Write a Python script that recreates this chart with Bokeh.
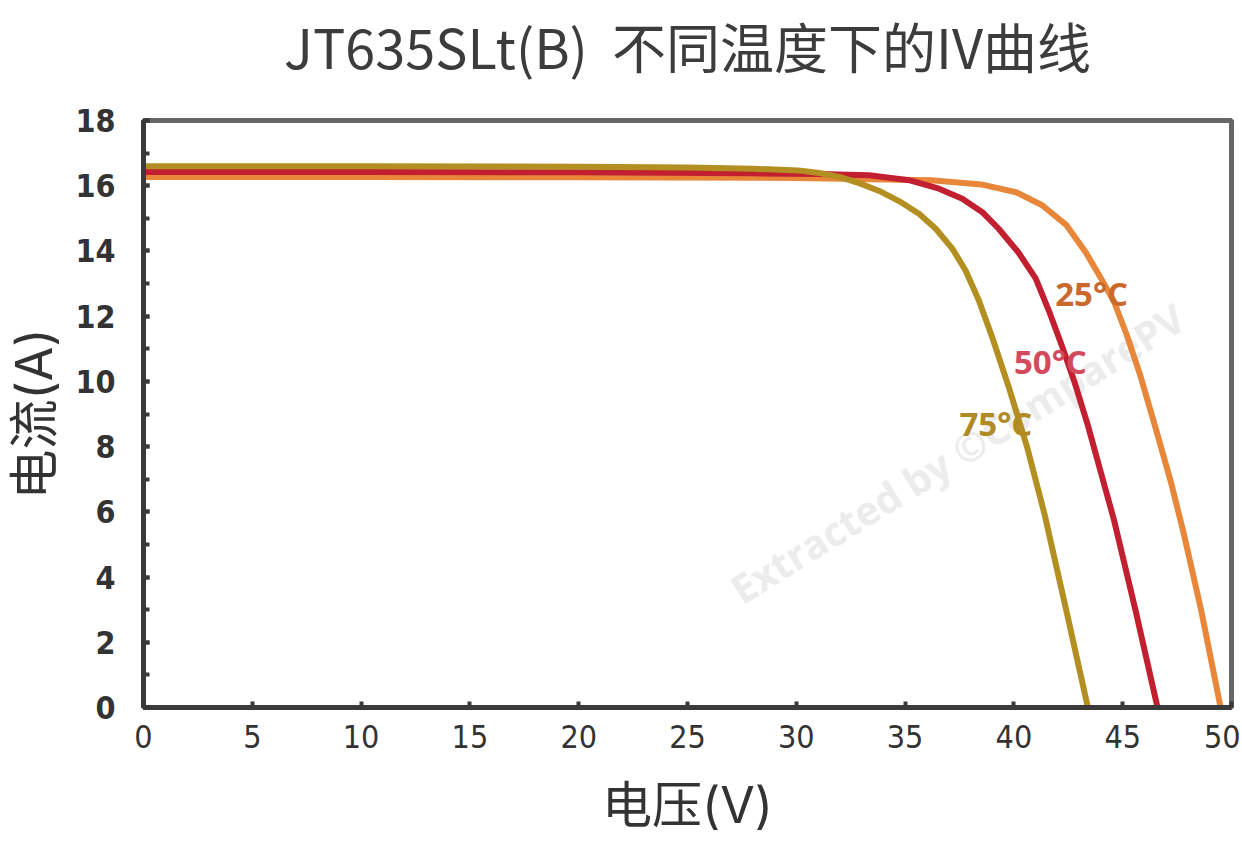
from bokeh.plotting import figure
from bokeh.models import Range1d, SingleIntervalTicker, Label
from bokeh.layouts import column
from bokeh.core.properties import value
from bokeh.embed import file_html
from bokeh.resources import INLINE
import math

TITLE = "JT635SLt(B)\u00a0\u00a0不同温度下的IV曲线"
X_LABEL = "电压(V)"
Y_LABEL = "电流(A)"

series_names = ["25°C", "50°C", "75°C"]

v_25 = [0, 10, 20, 30, 36.2, 38.5, 40.1, 41.3, 42.4, 43.3, 44.0, 44.6, 45.2, 45.8, 46.5, 47.2, 47.8, 48.6, 49.5]
i_25 = [16.27, 16.27, 16.26, 16.24, 16.17, 16.04, 15.8, 15.4, 14.8, 13.96, 13.16, 12.45, 11.4, 10.2, 8.6, 6.95, 5.35, 3.0, 0]

v_50 = [0, 10, 20, 28, 31.06, 33.35, 35.18, 36.56, 37.63, 38.55, 39.3, 40.2, 41.0, 41.6, 42.2, 42.8, 43.4, 44.0, 44.6, 45.6, 46.6]
i_50 = [16.42, 16.42, 16.41, 16.38, 16.36, 16.32, 16.17, 15.91, 15.6, 15.19, 14.68, 13.96, 13.16, 12.18, 11.1, 9.95, 8.65, 7.2, 5.75, 2.95, 0]

v_75 = [0, 10, 20, 25, 28, 30.1, 31.06, 31.97, 32.89, 33.81, 34.72, 35.64, 36.41, 37.17, 37.78, 38.39, 39.0, 39.8, 40.6, 41.4, 42.4, 43.4]
i_75 = [16.6, 16.6, 16.58, 16.56, 16.52, 16.47, 16.39, 16.27, 16.08, 15.84, 15.53, 15.14, 14.68, 14.07, 13.4, 12.48, 11.36, 9.75, 8.0, 5.95, 3.0, 0]

line_colors = ["#E8873A", "#C21F30", "#B38E21"]
label_colors = ["#C9692B", "#D24A5B", "#B08A22"]
label_x = [41.9, 40.0, 37.5]
label_y = [12.7, 10.6, 8.7]

X_MIN, X_MAX = 0, 50
Y_MIN, Y_MAX = 0, 18

W = 1240
LEFT, RIGHT = 143, 9
TITLE_H = 90

# --- title strip (its own small figure, same horizontal frame as the chart)
tf = figure(width=W, height=TITLE_H, x_range=Range1d(0, 1), y_range=Range1d(0, 1),
            output_backend="svg", toolbar_location=None,
            x_axis_location=None, y_axis_location=None,
            min_border_left=LEFT, min_border_right=RIGHT, min_border_top=0, min_border_bottom=0,
            background_fill_color="white", border_fill_color="white")
tf.outline_line_color = None
tf.xgrid.visible = False
tf.ygrid.visible = False
tf.text(x=[0.5], y=[0.5], text=[TITLE], text_align="center", text_baseline="middle",
        text_font=value("Noto Sans CJK SC"), text_font_size=value("54px"),
        text_color="#3c3c3c")

# --- main chart
p = figure(width=W, height=755,
           x_range=Range1d(X_MIN, X_MAX), y_range=Range1d(Y_MIN, Y_MAX),
           output_backend="svg", toolbar_location=None,
           min_border_left=LEFT, min_border_right=RIGHT, min_border_top=120 - TITLE_H,
           min_border_bottom=138,
           background_fill_color="white", border_fill_color="white")

p.xgrid.visible = False
p.ygrid.visible = False

p.outline_line_color = "#666666"
p.outline_line_width = 5

LABEL_FONT = "Inter, 'Noto Sans CJK SC', sans-serif"
for ax in (p.xaxis[0], p.yaxis[0]):
    ax.axis_line_color = "#3a3a3a"
    ax.axis_line_width = 5
    ax.major_tick_line_color = "#3a3a3a"
    ax.major_tick_line_width = 4
    ax.minor_tick_line_color = "#3a3a3a"
    ax.minor_tick_line_width = 4
    ax.major_tick_in = 6
    ax.major_tick_out = 0
    ax.minor_tick_in = 6
    ax.minor_tick_out = 0
    ax.major_label_text_color = "#333333"
    ax.axis_label_text_color = "#333333"
    ax.axis_label_text_font = LABEL_FONT
    ax.axis_label_text_font_style = "normal"
    ax.axis_label_text_font_size = "50px"

p.xaxis.ticker = SingleIntervalTicker(interval=5, num_minor_ticks=0)
p.yaxis.ticker = SingleIntervalTicker(interval=2, num_minor_ticks=2)

p.xaxis.axis_label = X_LABEL
p.yaxis.axis_label = Y_LABEL

NARROW = "'Liberation Sans Narrow', 'DejaVu Sans Condensed', 'Liberation Sans', sans-serif"
p.xaxis.major_label_text_font = NARROW
p.xaxis.major_label_text_font_size = "32px"
p.xaxis.major_label_text_font_style = "normal"
p.xaxis.major_label_standoff = 17
p.xaxis.axis_label_standoff = 24

p.yaxis.major_label_text_font = NARROW
p.yaxis.major_label_text_font_size = "32px"
p.yaxis.major_label_text_font_style = "bold"
p.yaxis.major_label_standoff = 28
p.yaxis.axis_label_standoff = 8

# watermark
p.add_layout(Label(x=37.4, y=7.8, text="Extracted by ©ComparePV", angle=math.radians(32),
                   text_align="center", text_baseline="middle",
                   text_font="Open Sans", text_font_style="bold", text_font_size="40px",
                   text_color="#ececec", level="underlay"))

for vs, cs, col in zip([v_25, v_50, v_75], [i_25, i_50, i_75], line_colors):
    p.line(vs, cs, line_color=col, line_width=6, line_cap="round", line_join="round")

for name, lx, ly, lc in zip(series_names, label_x, label_y, label_colors):
    p.add_layout(Label(x=lx, y=ly, text=name, text_align="left", text_baseline="middle",
                       text_font="Open Sans", text_font_style="bold",
                       text_font_size="33px", text_color=lc))

layout = column(tf, p, spacing=0)
open("out.html", "w").write(file_html(layout, INLINE))
